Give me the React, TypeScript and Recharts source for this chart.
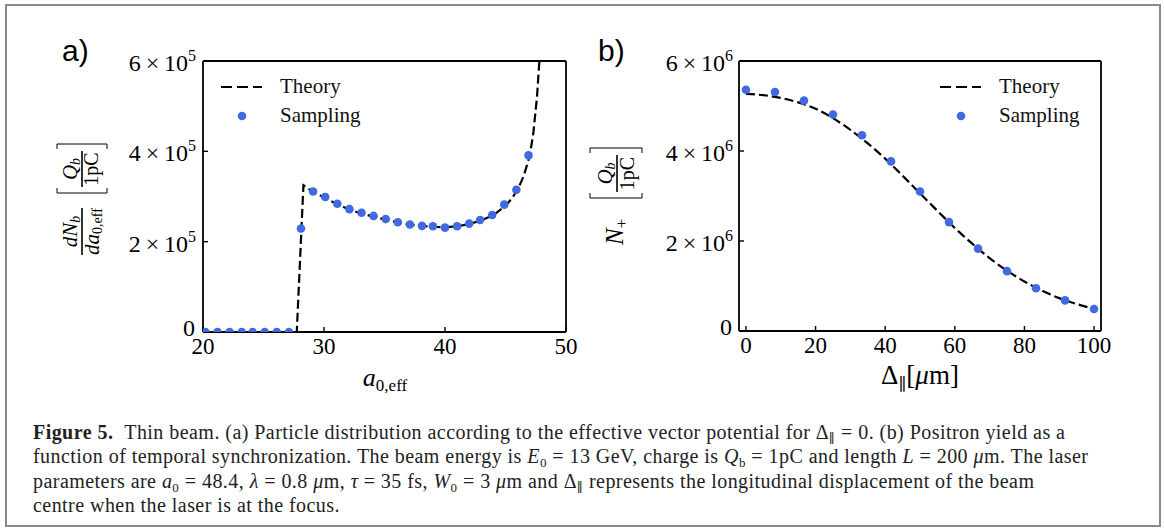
import React from 'react';
import { ComposedChart, Line, Scatter, XAxis, YAxis, Legend } from 'recharts';

const SERIF = '"Liberation Serif", "DejaVu Serif", serif';
const SANS = '"Liberation Sans", Arial, sans-serif';
const BLUE = '#4169e1';

// panel a: distribution over a0,eff
const aTicksX = [20, 30, 40, 50];
const aTicksY = [0, 200000, 400000, 600000];
const aTheoryX = [20, 27.75, 28.3, 29, 30, 31, 32, 33, 34, 35, 36, 37, 38, 39, 40, 41, 42, 43, 44, 45, 45.5, 46, 46.5, 47, 47.3, 47.6, 47.8, 48];
const aTheoryY = [0, 0, 325000, 312000, 298000, 284000, 272000, 263000, 256000, 249000, 243000, 238000, 235000, 233000, 232000, 234000, 239000, 247000, 259000, 279000, 295000, 315000, 345000, 390000, 440000, 520000, 600000, 690000];
const aSampleX = [20.2, 21.2, 22.2, 23.2, 24.1, 25.1, 26.1, 27.1, 28.1, 29.1, 30.1, 31.1, 32.1, 33.1, 34.1, 35.1, 36.1, 37.1, 38.1, 39.0, 40.0, 41.0, 42.0, 42.9, 43.9, 44.9, 45.9, 46.9];
const aSampleY = [0, 0, 0, 0, 0, 0, 0, 0, 229000, 311000, 299000, 284000, 272000, 264000, 257000, 250000, 243000, 238000, 235000, 234000, 231000, 234000, 240000, 248000, 259000, 282000, 315000, 391000];

// panel b: positron yield vs displacement
const bTicksX = [0, 20, 40, 60, 80, 100];
const bTicksY = [0, 2000000, 4000000, 6000000];
const bTheoryX = [0, 5, 10, 15, 20, 25, 30, 35, 40, 45, 50, 55, 60, 65, 70, 75, 80, 85, 90, 95, 100];
const bTheoryY = [5.27e6, 5.24e6, 5.18e6, 5.08e6, 4.94e6, 4.73e6, 4.47e6, 4.17e6, 3.83e6, 3.45e6, 3.06e6, 2.67e6, 2.29e6, 1.94e6, 1.62e6, 1.34e6, 1.10e6, 0.90e6, 0.73e6, 0.60e6, 0.49e6];
const bSampleX = [0, 8.33, 16.67, 25, 33.33, 41.67, 50, 58.33, 66.67, 75, 83.33, 91.67, 100];
const bSampleY = [5.36e6, 5.31e6, 5.12e6, 4.81e6, 4.35e6, 3.77e6, 3.10e6, 2.42e6, 1.83e6, 1.33e6, 0.95e6, 0.68e6, 0.49e6];

const zip = (xs: number[], ys: number[]) => xs.map((x, i) => ({ x, y: ys[i] }));

const SciTick = (props: any) => {
  const { x, y, payload, exp } = props;
  const v = payload.value;
  if (v === 0) {
    return (
      <text x={x - 1} y={y} dy={4} textAnchor="end" fontFamily={SERIF} fontSize={24} fill="#000">0</text>
    );
  }
  const m = Math.round(v / Math.pow(10, exp));
  return (
    <text x={x} y={y} dy={10} textAnchor="end" fontFamily={SERIF} fontSize={24} fill="#000">
      {m}{'\u2009×\u2009'}10<tspan dy={-10} fontSize={16}>{exp}</tspan>
    </text>
  );
};

const Dot = (props: any) => <circle cx={props.cx} cy={props.cy} r={4.3} fill={BLUE} />;

const LegendBox = ({ dotX }: { dotX: number }) => (
  <div style={{ fontFamily: SERIF, fontSize: 21, color: '#111' }}>
    <div style={{ display: 'flex', alignItems: 'center', height: 29 }}>
      <svg width={59} height={10}>
        <line x1={0} x2={41} y1={5} y2={5} stroke="#000" strokeWidth={2.2} strokeDasharray="11 5" />
      </svg>
      <span>Theory</span>
    </div>
    <div style={{ display: 'flex', alignItems: 'center', height: 29 }}>
      <svg width={59} height={10}>
        <circle cx={dotX} cy={5} r={4.3} fill={BLUE} />
      </svg>
      <span>Sampling</span>
    </div>
  </div>
);

const axisLine = { stroke: '#000', strokeWidth: 1.8 };
const tickLine = { stroke: '#000', strokeWidth: 1.4 };
const xTick = { fill: '#000', fontSize: 23, fontFamily: SERIF };
const sub = { fontSize: 13, lineHeight: 0, position: 'relative' as const, top: 4, verticalAlign: 'baseline' };

export default function App() {
  const theoryA = zip(aTheoryX, aTheoryY);
  const sampleA = zip(aSampleX, aSampleY);
  const theoryB = zip(bTheoryX, bTheoryY);
  const sampleB = zip(bSampleX, bSampleY);

  return (
    <div style={{ position: 'absolute', left: 0, top: 0, width: 1165, height: 530, background: '#fff', overflow: 'hidden' }}>
      <div style={{ position: 'absolute', left: 5, top: 4, width: 1152, height: 519, border: '2px solid #8a8a8a' }} />

      <div style={{ position: 'absolute', left: 0, top: 0 }}>
        <ComposedChart width={600} height={400} margin={{ top: 60, left: 202, right: 33, bottom: 67 }}>
          <XAxis dataKey="x" type="number" domain={[20, 50]} ticks={aTicksX} interval={0} allowDataOverflow height={1}
            tickSize={-5} tickMargin={11} axisLine={axisLine} tickLine={tickLine} tick={xTick} />
          <XAxis xAxisId="top" orientation="top" type="number" domain={[20, 50]} ticks={aTicksX} interval={0} allowDataOverflow height={1}
            tickSize={-5} axisLine={axisLine} tickLine={tickLine} tick={false} />
          <YAxis dataKey="y" type="number" domain={[0, 600000]} ticks={aTicksY} interval={0} allowDataOverflow width={1}
            tickSize={-5} tickMargin={12} axisLine={axisLine} tickLine={tickLine} tick={<SciTick exp={5} />} />
          <YAxis yAxisId="right" orientation="right" type="number" domain={[0, 600000]} ticks={aTicksY} interval={0} allowDataOverflow width={1}
            tickSize={-5} axisLine={axisLine} tickLine={tickLine} tick={false} />
          <Legend layout="vertical" align="center" verticalAlign="middle" wrapperStyle={{ left: 221, top: 72, width: 160 }}
            content={() => <LegendBox dotX={21} />} />
          <Line data={theoryA} dataKey="y" type="linear" stroke="#000" strokeWidth={2.2} strokeDasharray="9 4" dot={false} isAnimationActive={false} />
          <Scatter data={sampleA} dataKey="y" fill={BLUE} shape={<Dot />} isAnimationActive={false} />
        </ComposedChart>
      </div>

      <div style={{ position: 'absolute', left: 580, top: 0 }}>
        <ComposedChart width={585} height={400} margin={{ top: 60, left: 158, right: 63, bottom: 68 }}>
          <XAxis dataKey="x" type="number" domain={[-2, 102]} ticks={bTicksX} interval={0} allowDataOverflow height={1}
            tickSize={-5} tickMargin={11} axisLine={axisLine} tickLine={tickLine} tick={xTick} />
          <XAxis xAxisId="top" orientation="top" type="number" domain={[-2, 102]} ticks={bTicksX} interval={0} allowDataOverflow height={1}
            tickSize={-5} axisLine={axisLine} tickLine={tickLine} tick={false} />
          <YAxis dataKey="y" type="number" domain={[0, 6000000]} ticks={bTicksY} interval={0} allowDataOverflow width={1}
            tickSize={-5} tickMargin={11} axisLine={axisLine} tickLine={tickLine} tick={<SciTick exp={6} />} />
          <YAxis yAxisId="right" orientation="right" type="number" domain={[0, 6000000]} ticks={bTicksY} interval={0} allowDataOverflow width={1}
            tickSize={-5} axisLine={axisLine} tickLine={tickLine} tick={false} />
          <Legend layout="vertical" align="center" verticalAlign="middle" wrapperStyle={{ left: 360, top: 72, width: 160 }}
            content={() => <LegendBox dotX={21} />} />
          <Line data={theoryB} dataKey="y" type="monotone" stroke="#000" strokeWidth={2.2} strokeDasharray="9 4" dot={false} isAnimationActive={false} />
          <Scatter data={sampleB} dataKey="y" fill={BLUE} shape={<Dot />} isAnimationActive={false} />
        </ComposedChart>
      </div>

      <svg width={1165} height={530} style={{ position: 'absolute', left: 0, top: 0, pointerEvents: 'none' }}>
        <text x={62} y={61} fontFamily={SANS} fontSize={30} fill="#000">a)</text>
        <text x={598} y={61} fontFamily={SANS} fontSize={30} fill="#000">b)</text>

        {/* panel a axis labels */}
        <text x={385} y={386} textAnchor="middle" fontFamily={SERIF} fill="#000">
          <tspan fontStyle="italic" fontSize={26}>a</tspan>
          <tspan fontSize={17} dy={5}>0,eff</tspan>
        </text>
        <g transform="translate(82,198) rotate(-90)" fontFamily={SERIF} fill="#000">
          <text x={-33.5} y={-5} textAnchor="middle" fontSize={21}>
            <tspan fontStyle="italic">dN</tspan><tspan fontSize={14} dy={3} fontStyle="italic">b</tspan>
          </text>
          <line x1={-57} x2={-10} y1={0} y2={0} stroke="#000" strokeWidth={1.6} />
          <text x={-33.5} y={17} textAnchor="middle" fontSize={21}>
            <tspan fontStyle="italic">da</tspan><tspan fontSize={14} dy={3}>0,eff</tspan>
          </text>
          <path d="M 10 -25 L 5 -25 L 5 25 L 10 25" fill="none" stroke="#000" strokeWidth={1} />
          <path d="M 49 -25 L 54 -25 L 54 25 L 49 25" fill="none" stroke="#000" strokeWidth={1} />
          <text x={29} y={-5} textAnchor="middle" fontSize={21}>
            <tspan fontStyle="italic">Q</tspan><tspan fontSize={14} dy={3} fontStyle="italic">b</tspan>
          </text>
          <line x1={11} x2={47} y1={0} y2={0} stroke="#000" strokeWidth={1.6} />
          <text x={29} y={16} textAnchor="middle" fontSize={20}>1pC</text>
        </g>

        {/* panel b axis labels */}
        <text x={920} y={384} textAnchor="middle" fontFamily={SERIF} fill="#000">
          <tspan fontSize={27}>Δ</tspan>
          <tspan fontSize={17} dy={6}>∥</tspan>
          <tspan fontSize={27} dy={-6}>[</tspan><tspan fontSize={27} fontStyle="italic">μ</tspan><tspan fontSize={27}>m]</tspan>
        </text>
        <g transform="translate(616,198) rotate(-90)" fontFamily={SERIF} fill="#000">
          <text x={-47} y={7} fontSize={25}>
            <tspan fontStyle="italic">N</tspan><tspan fontSize={17} dy={4}>+</tspan>
          </text>
          <path d="M 5 -26 L 0 -26 L 0 26 L 5 26" fill="none" stroke="#000" strokeWidth={1} />
          <path d="M 45 -26 L 50 -26 L 50 26 L 45 26" fill="none" stroke="#000" strokeWidth={1} />
          <text x={24.5} y={-4} textAnchor="middle" fontSize={21}>
            <tspan fontStyle="italic">Q</tspan><tspan fontSize={14} dy={3} fontStyle="italic">b</tspan>
          </text>
          <line x1={6} x2={43} y1={1} y2={1} stroke="#000" strokeWidth={1.6} />
          <text x={24.5} y={18} textAnchor="middle" fontSize={20}>1pC</text>
        </g>
      </svg>

      <div style={{ position: 'absolute', left: 33, top: 420, fontFamily: SERIF, fontSize: 20, letterSpacing: '0.45px', lineHeight: '24.3px', color: '#222', whiteSpace: 'nowrap' }}>
        <div><b>Figure 5.</b>&nbsp;&nbsp;Thin beam. (a) Particle distribution according to the effective vector potential for Δ<span style={sub}>∥</span> = 0. (b) Positron yield as a</div>
        <div>function of temporal synchronization. The beam energy is <i>E</i><span style={sub}>0</span> = 13 GeV, charge is <i>Q</i><span style={sub}>b</span> = 1pC and length <i>L</i> = 200 <i>μ</i>m. The laser</div>
        <div>parameters are <i>a</i><span style={sub}>0</span> = 48.4, <i>λ</i> = 0.8 <i>μ</i>m, <i>τ</i> = 35 fs, <i>W</i><span style={sub}>0</span> = 3 <i>μ</i>m and Δ<span style={sub}>∥</span> represents the longitudinal displacement of the beam</div>
        <div>centre when the laser is at the focus.</div>
      </div>
    </div>
  );
}
